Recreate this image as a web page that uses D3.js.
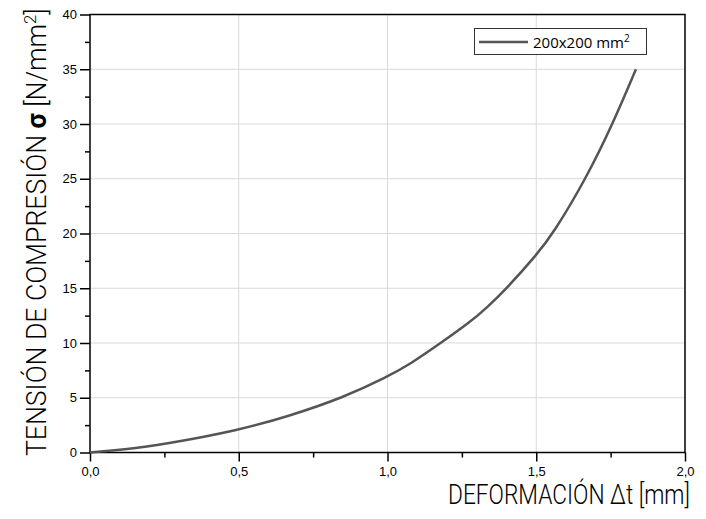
<html>
  <head>
    <meta charset="utf-8">
    <script src="https://d3js.org/d3.v7.min.js"></script>
    <style>
      body { margin: 0; background: #fff; }
    </style>
  </head>
  <body>
    <svg width="706" height="519" id="chart"></svg>
  </body>

  <script type="text/javascript">
    // readings of the curve (deformation in mm, stress in N/mm2)
    var deformation = [0, 0.1, 0.25, 0.5, 0.672, 0.85, 1.0, 1.076, 1.179, 1.277, 1.333, 1.401, 1.5, 1.557, 1.667, 1.757, 1.835];
    var stress      = [0, 0.22, 0.75, 2.03, 3.35, 5.0, 6.92, 8.07, 10.0, 11.9, 13.2, 15.0, 18.02, 20.0, 25.0, 30.0, 35.0];
    var xTicks = [0, 0.5, 1.0, 1.5, 2.0];
    var yTicks = [0, 5, 10, 15, 20, 25, 30, 35, 40];
    var seriesName = "200x200 mm";

    var mLeft = 90, mRight = 685, mTop = 14.5, mBottom = 452.5;

    var x = d3.scaleLinear().domain([0, 2]).range([mLeft, mRight]);
    var y = d3.scaleLinear().domain([0, 40]).range([mBottom, mTop]);
    var fmt = function(d){ return d3.format(".1f")(d).replace(".", ","); };

    var svg = d3.select("#chart");

    // grid
    svg.append("g").selectAll("line")
      .data(xTicks.slice(1, -1)).enter().append("line")
      .attr("x1", function(d){ return x(d); }).attr("x2", function(d){ return x(d); })
      .attr("y1", mTop).attr("y2", mBottom)
      .attr("stroke", "#d9d9d9").attr("stroke-width", 1);
    svg.append("g").selectAll("line")
      .data(yTicks.slice(1, -1)).enter().append("line")
      .attr("y1", function(d){ return y(d); }).attr("y2", function(d){ return y(d); })
      .attr("x1", mLeft).attr("x2", mRight)
      .attr("stroke", "#d9d9d9").attr("stroke-width", 1);

    // minor ticks
    var xMinor = d3.axisBottom(x).tickValues([0.25, 0.75, 1.25, 1.75]).tickSize(5).tickFormat("");
    var yMinor = d3.axisLeft(y).tickValues([2.5, 7.5, 12.5, 17.5, 22.5, 27.5, 32.5, 37.5]).tickSize(5).tickFormat("");
    svg.append("g").attr("transform", "translate(0," + mBottom + ")").call(xMinor);
    svg.append("g").attr("transform", "translate(" + mLeft + ",0)").call(yMinor);

    // major axes
    var xAxis = d3.axisBottom(x).tickValues(xTicks).tickSize(9).tickPadding(5).tickFormat(fmt);
    var yAxis = d3.axisLeft(y).tickValues(yTicks).tickSize(10).tickPadding(3);
    svg.append("g").attr("transform", "translate(0," + mBottom + ")").call(xAxis);
    svg.append("g").attr("transform", "translate(" + mLeft + ",0)").call(yAxis);

    svg.selectAll(".domain").remove();
    svg.selectAll(".tick line").attr("stroke", "#000").attr("stroke-width", 1.5);
    svg.selectAll(".tick text")
      .attr("font-family", "'Liberation Sans', Arial, sans-serif")
      .attr("font-size", 13).attr("fill", "#000");

    // frame
    svg.append("rect")
      .attr("x", mLeft).attr("y", mTop)
      .attr("width", mRight - mLeft).attr("height", mBottom - mTop)
      .attr("fill", "none").attr("stroke", "#000").attr("stroke-width", 1.5);

    // curve
    var pts = deformation.map(function(d, i){ return [d, stress[i]]; });
    var line = d3.line()
      .x(function(d){ return x(d[0]); })
      .y(function(d){ return y(d[1]); })
      .curve(d3.curveBasis);
    svg.append("path")
      .attr("d", line(pts))
      .attr("fill", "none")
      .attr("stroke", "#555")
      .attr("stroke-width", 2.5);

    // legend
    var lg = svg.append("g");
    lg.append("rect").attr("x", 474.5).attr("y", 28.5).attr("width", 172).attr("height", 26)
      .attr("fill", "#fff").attr("stroke", "#333").attr("stroke-width", 1);
    lg.append("line").attr("x1", 479).attr("x2", 528).attr("y1", 42).attr("y2", 42)
      .attr("stroke", "#555").attr("stroke-width", 2.5);
    var lt = lg.append("text").attr("x", 533).attr("y", 47.5)
      .attr("font-family", "'Open Sans', sans-serif").attr("font-size", 15).attr("fill", "#000");
    lt.append("tspan").text(seriesName);
    lt.append("tspan").attr("font-size", 10).attr("dy", -6).text("2");

    var titleFont = "Roboto, 'Liberation Sans', sans-serif";

    // x title, squeezed to the condensed look of the original
    var xt = svg.append("text")
      .attr("font-family", titleFont).attr("font-weight", 300)
      .attr("font-size", 27).attr("fill", "#000")
      .text("DEFORMACIÓN Δt [mm]");
    var xw = xt.node().getComputedTextLength();
    var xs = 242 / xw;
    xt.attr("transform", "translate(" + (690 - 242) + ",504) scale(" + xs + ",1)");

    // y title
    var yt = svg.append("text")
      .attr("font-family", titleFont).attr("font-weight", 300)
      .attr("font-size", 27).attr("fill", "#000");
    yt.append("tspan").text("TENSIÓN DE COMPRESIÓN ");
    yt.append("tspan").attr("font-weight", "bold").text("σ");
    yt.append("tspan").text(" [N/mm");
    yt.append("tspan").attr("font-size", 17).attr("dy", -10).text("2");
    yt.append("tspan").attr("dy", 10).text("]");
    var yw = yt.node().getBBox().width;
    var ys = 448 / yw;
    yt.attr("transform", "translate(46,456) rotate(-90) scale(" + ys + ",1)");
  </script>
</html>
